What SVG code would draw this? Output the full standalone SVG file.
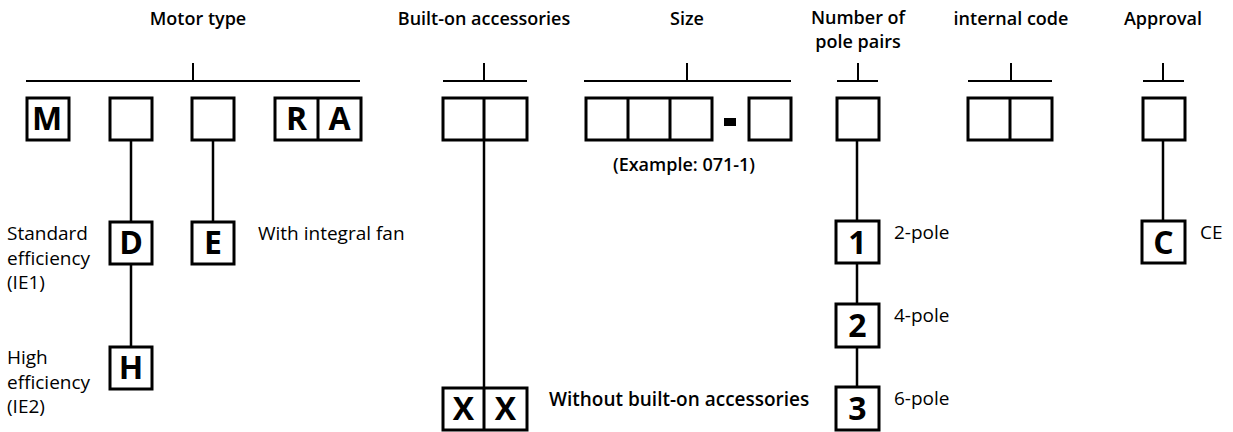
<svg xmlns="http://www.w3.org/2000/svg" width="1233" height="432" viewBox="0 0 1233 432">
<style>
.t{font-family:"Open Sans","Liberation Sans",sans-serif;font-size:18px;font-weight:600;fill:#000;text-anchor:middle}
.l{font-family:"Open Sans","Liberation Sans",sans-serif;font-size:19px;font-weight:400;fill:#000}
.lb{font-family:"Open Sans","Liberation Sans",sans-serif;font-size:19px;font-weight:600;fill:#000}
.k{font-family:"Open Sans","Liberation Sans",sans-serif;font-size:32px;font-weight:700;fill:#000;text-anchor:middle}
.b{fill:#fff;stroke:#000;stroke-width:3}
.h{stroke:#000;stroke-width:2;fill:none}
.c{stroke:#000;stroke-width:2.5;fill:none}
</style>
<rect width="1233" height="432" fill="#fff"/>
<g id="headers">
<text class="t" x="198" y="25">Motor type</text>
<text class="t" x="484" y="25">Built-on accessories</text>
<text class="t" x="687" y="25">Size</text>
<text class="t" x="858" y="24">Number of</text>
<text class="t" x="858" y="48">pole pairs</text>
<text class="t" x="1011" y="25">internal code</text>
<text class="t" x="1163" y="25">Approval</text>
</g>
<g id="brackets">
<path class="h" d="M26 81H360M193 63V81"/>
<path class="h" d="M443 81H527M484 63V81"/>
<path class="h" d="M584 81H791M687 63V81"/>
<path class="h" d="M837 81H878M858 63V81"/>
<path class="h" d="M968 81H1052M1011 63V81"/>
<path class="h" d="M1143 81H1184M1163 63V81"/>
</g>
<g id="connectors">
<path class="c" d="M131 140V222M131 264V347"/>
<path class="c" d="M213 140V222"/>
<path class="c" d="M484 140V388"/>
<path class="c" d="M857 140V221M857 263V304M857 347V387"/>
<path class="c" d="M1163 140V221"/>
</g>
<g id="motor-type">
<rect class="b" x="27" y="98" width="42" height="42"/><text class="k" x="47" y="130">M</text>
<rect class="b" x="110" y="98" width="42" height="42"/>
<rect class="b" x="192" y="98" width="42" height="42"/>
<rect class="b" x="275" y="98" width="86" height="42"/><path class="b" d="M318 98V140"/>
<text class="k" x="296.5" y="130">R</text><text class="k" x="339.5" y="130">A</text>
</g>
<g id="built-on">
<rect class="b" x="443" y="98" width="84" height="42"/><path class="b" d="M484 98V140"/>
</g>
<g id="size">
<rect class="b" x="586" y="98" width="126" height="42"/><path class="b" d="M628 98V140M670 98V140"/>
<rect x="724" y="118" width="12" height="8" fill="#000"/>
<rect class="b" x="749" y="98" width="42" height="42"/>
<text class="t" x="684" y="171">(Example: 071-1)</text>
</g>
<g id="pole-pairs">
<rect class="b" x="837" y="98" width="42" height="42"/>
</g>
<g id="internal-code">
<rect class="b" x="968" y="98" width="84" height="42"/><path class="b" d="M1010 98V140"/>
</g>
<g id="approval">
<rect class="b" x="1143" y="98" width="42" height="42"/>
</g>
<g id="node-D">
<rect class="b" x="110" y="222" width="42" height="42"/><text class="k" x="131" y="254">D</text>
<text class="l" x="7" y="240">Standard</text>
<text class="l" x="7" y="265">efficiency</text>
<text class="l" x="7" y="289">(IE1)</text>
</g>
<g id="node-E">
<rect class="b" x="192" y="222" width="42" height="42"/><text class="k" x="213" y="254">E</text>
<text class="l" x="258" y="240">With integral fan</text>
</g>
<g id="node-H">
<rect class="b" x="110" y="347" width="42" height="42"/><text class="k" x="131" y="379">H</text>
<text class="l" x="7" y="364">High</text>
<text class="l" x="7" y="389">efficiency</text>
<text class="l" x="7" y="413">(IE2)</text>
</g>
<g id="node-XX">
<rect class="b" x="443" y="388" width="84" height="42"/><path class="b" d="M484 388V430"/>
<text class="k" x="463.5" y="420">X</text><text class="k" x="505.5" y="420">X</text>
<text class="lb" x="549" y="406">Without built-on accessories</text>
</g>
<g id="node-1">
<rect class="b" x="836" y="221" width="43" height="42"/><text class="k" x="857.5" y="254">1</text>
<text class="l" x="894" y="239">2-pole</text>
</g>
<g id="node-2">
<rect class="b" x="836" y="304" width="43" height="43"/><text class="k" x="857.5" y="337">2</text>
<text class="l" x="894" y="322">4-pole</text>
</g>
<g id="node-3">
<rect class="b" x="836" y="387" width="43" height="43"/><text class="k" x="857.5" y="420">3</text>
<text class="l" x="894" y="405">6-pole</text>
</g>
<g id="node-C">
<rect class="b" x="1142" y="221" width="43" height="42"/><text class="k" x="1163.5" y="254">C</text>
<text class="l" x="1200" y="239">CE</text>
</g>
</svg>
